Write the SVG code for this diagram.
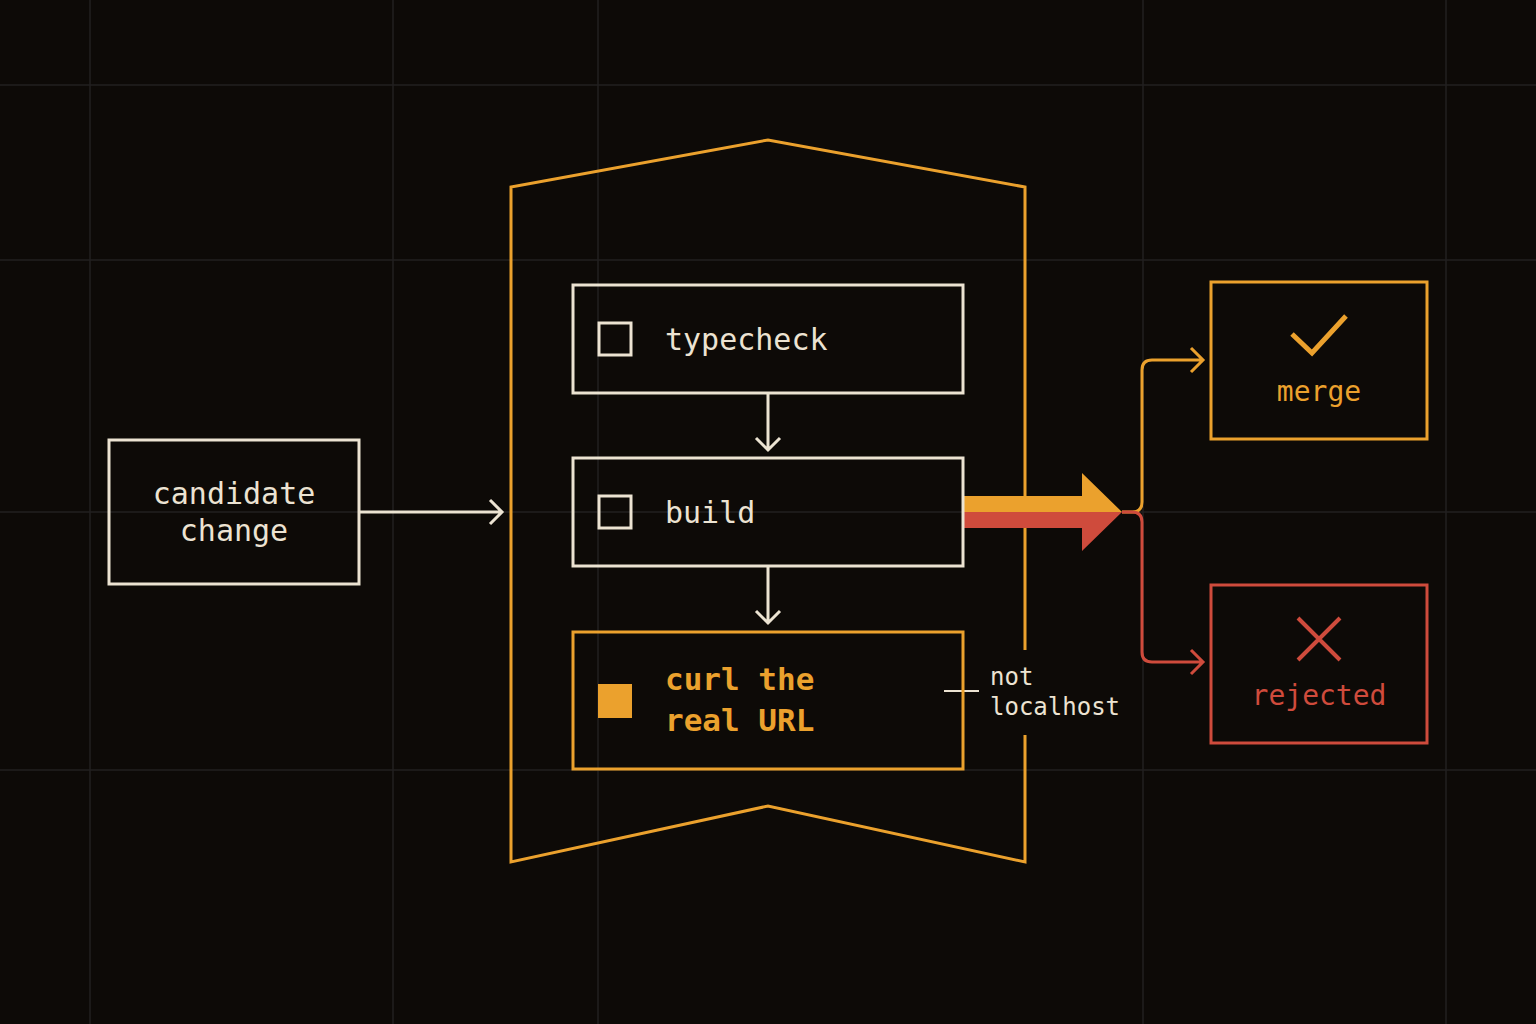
<svg xmlns="http://www.w3.org/2000/svg" width="1536" height="1024" viewBox="0 0 1536 1024">
<style>
text{font-family:"DejaVu Sans Mono","Liberation Mono",monospace}
.grid{stroke:#222020;stroke-width:1.5}
.cream{fill:none;stroke:#ece3d2;stroke-width:3}
.or{fill:none;stroke:#eba12d;stroke-width:3}
.rd{fill:none;stroke:#cf4b3c;stroke-width:3}
.t{fill:#ece3d2;font-size:30px}
</style>
<rect width="1536" height="1024" fill="#0d0a07"/>
<g id="grid">
<line class="grid" x1="90" y1="0" x2="90" y2="1024"/>
<line class="grid" x1="393" y1="0" x2="393" y2="1024"/>
<line class="grid" x1="598" y1="0" x2="598" y2="1024"/>
<line class="grid" x1="1143" y1="0" x2="1143" y2="1024"/>
<line class="grid" x1="1446" y1="0" x2="1446" y2="1024"/>
<line class="grid" x1="0" y1="85" x2="1536" y2="85"/>
<line class="grid" x1="0" y1="260" x2="1536" y2="260"/>
<line class="grid" x1="0" y1="512" x2="1536" y2="512"/>
<line class="grid" x1="0" y1="770" x2="1536" y2="770"/>
</g>
<g id="frame">
<path class="or" d="M1025 650 V187 L768 140 L511 187 V862 L768 806 L1025 862 V735"/>
</g>
<g id="connectors">
<path class="cream" d="M359 512 H502 M490 500 L502 512 L490 524"/>
<path class="cream" d="M768 393 V450 M756 438 L768 450 L780 438"/>
<path class="cream" d="M768 566 V623 M756 611 L768 623 L780 611"/>
<polygon fill="#eba12d" points="963,496 1082,496 1082,473 1122,512 963,512"/>
<polygon fill="#cf4b3c" points="963,512 1122,512 1082,551 1082,528 963,528"/>
<path class="or" d="M1122 512 H1132 Q1142 512 1142 502 V370 Q1142 360 1152 360 H1203 M1191 348 L1203 360 L1191 372"/>
<path class="rd" d="M1122 512 H1132 Q1142 512 1142 522 V652 Q1142 662 1152 662 H1203 M1191 650 L1203 662 L1191 674"/>
<line x1="944" y1="691" x2="979" y2="691" stroke="#ece3d2" stroke-width="2"/>
<text x="990" y="685" fill="#ece3d2" font-size="24">not</text>
<text x="990" y="715" fill="#ece3d2" font-size="24">localhost</text>
</g>
<g id="candidate">
<rect class="cream" x="109" y="440" width="250" height="144"/>
<text class="t" x="234" y="504" text-anchor="middle">candidate</text>
<text class="t" x="234" y="541" text-anchor="middle">change</text>
</g>
<g id="typecheck">
<rect class="cream" x="573" y="285" width="390" height="108"/>
<rect class="cream" x="599" y="323" width="32" height="32"/>
<text class="t" x="665" y="350">typecheck</text>
</g>
<g id="build">
<rect class="cream" x="573" y="458" width="390" height="108"/>
<rect class="cream" x="599" y="496" width="32" height="32"/>
<text class="t" x="665" y="523">build</text>
</g>
<g id="curl">
<rect class="or" x="573" y="632" width="390" height="137"/>
<rect x="598" y="684" width="34" height="34" fill="#eba12d"/>
<text x="665" y="690" fill="#eba12d" font-size="31" font-weight="bold">curl the</text>
<text x="665" y="731" fill="#eba12d" font-size="31" font-weight="bold">real URL</text>
</g>
<g id="merge">
<rect class="or" x="1211" y="282" width="216" height="157"/>
<path d="M1292 334 L1312 353 L1346 316" fill="none" stroke="#eba12d" stroke-width="5"/>
<text x="1319" y="401" text-anchor="middle" fill="#eba12d" font-size="28">merge</text>
</g>
<g id="rejected">
<rect class="rd" x="1211" y="585" width="216" height="158"/>
<path d="M1298 618 L1340 660 M1340 618 L1298 660" fill="none" stroke="#cf4b3c" stroke-width="4"/>
<text x="1319" y="705" text-anchor="middle" fill="#cf4b3c" font-size="28">rejected</text>
</g>
</svg>
